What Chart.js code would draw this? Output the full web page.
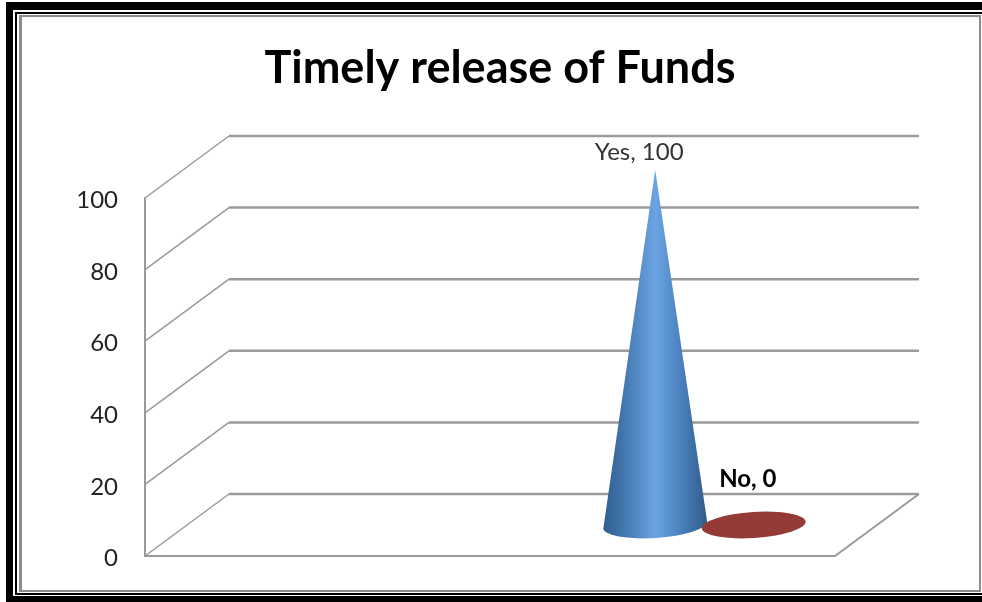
<!DOCTYPE html>
<html>
<head>
<meta charset="utf-8">
<title>Timely release of Funds</title>
<script src="https://cdn.jsdelivr.net/npm/chart.js@4/dist/chart.umd.min.js"></script>
<style>
  html,body{margin:0;padding:0;background:#fff}
  #wrap{width:982px;height:602px}
</style>
</head>
<body>
<div id="wrap"><canvas id="chart" width="982" height="602"></canvas></div>
<script>
// blank slots keep the two cones in the right part of the floor, like the original
const categories = ['','','','','','','','','','Yes','','No','',''];
const values     = [null,null,null,null,null,null,null,null,null,100,null,0,null,null];
const yTicks     = [0,20,40,60,80,100];
const chartTitle = 'Timely release of Funds';

const DEPTH_X = 84, DEPTH_Y = 62;
const GRID = '#9a9a9a';

// double rule round the picture
const framePlugin = {
  id:'frame',
  beforeDraw(c){
    const g = c.ctx, W = c.width, H = c.height;
    g.save();
    g.fillStyle = '#fff'; g.fillRect(0,0,W,H);
    g.fillStyle = '#000';
    g.fillRect(6,2,W-6,8);
    g.fillRect(6,2,7,H-2);
    g.fillRect(6,H-6,W-6,6);
    g.fillRect(15,12,W-15,2);
    g.fillRect(15,12,2,H-19);
    g.fillRect(15,H-9,W-15,2);
    g.fillStyle = '#8c8c8c';
    g.fillRect(19,15,W-20,2);
    g.fillRect(19,15,3,H-25);
    g.fillRect(19,H-12,W-20,2);
    g.fillRect(W-3,15,2,H-25);
    g.restore();
  }
};

// 3D walls built from the y scale ticks
const wallsPlugin = {
  id:'walls',
  beforeDatasetsDraw(c){
    const g = c.ctx, y = c.scales.y, a = c.chartArea;
    g.save();
    g.strokeStyle = GRID;
    y.ticks.forEach(t=>{
      const py = y.getPixelForValue(t.value);
      g.lineWidth = 1.5;
      g.beginPath(); g.moveTo(a.left,py); g.lineTo(a.left+DEPTH_X,py-DEPTH_Y); g.stroke();
      g.lineWidth = 2.5;
      g.beginPath(); g.moveTo(a.left+DEPTH_X,py-DEPTH_Y); g.lineTo(a.right+DEPTH_X,py-DEPTH_Y); g.stroke();
    });
    g.lineWidth = 2;
    g.beginPath(); g.moveTo(a.right,a.bottom); g.lineTo(a.right+DEPTH_X,a.bottom-DEPTH_Y); g.stroke();
    g.restore();
  }
};

// cones on top of the (invisible) bar elements
const conePlugin = {
  id:'cones',
  afterDatasetsDraw(c){
    const g = c.ctx, meta = c.getDatasetMeta(0);
    meta.data.forEach((bar,i)=>{
      if(values[i]===null) return;
      const cx = bar.x + DEPTH_X/2, rx = bar.width/2, ry = 13, tilt = -0.065;
      const baseY = bar.base - DEPTH_Y/2, topY = bar.y - DEPTH_Y/2 + 3;
      g.save();
      if(values[i]===0){
        g.fillStyle = '#943a37';
        g.beginPath(); g.ellipse(cx,baseY,rx,ry,tilt,0,Math.PI*2); g.fill();
      } else {
        const grad = g.createLinearGradient(cx-rx,0,cx+rx,0);
        grad.addColorStop(0,'#2f5d8f');
        grad.addColorStop(0.2,'#4377ae');
        grad.addColorStop(0.5,'#6ba4e3');
        grad.addColorStop(0.75,'#4a80bd');
        grad.addColorStop(1,'#2f5b88');
        g.fillStyle = grad;
        g.beginPath();
        g.moveTo(cx,topY);
        g.lineTo(cx+rx*Math.cos(tilt),baseY+rx*Math.sin(tilt));
        g.ellipse(cx,baseY,rx,ry,tilt,0,Math.PI);
        g.closePath();
        g.fill();
      }
      g.restore();
      // data labels
      g.save();
      g.textAlign = 'center'; g.textBaseline = 'middle';
      if(values[i]===0){
        g.font = 'bold 24px Lato'; g.fillStyle = '#000';
        g.fillText(categories[i]+', '+values[i], cx-6, baseY-46);
      } else {
        g.font = '24px Lato'; g.fillStyle = '#333';
        g.fillText(categories[i]+', '+values[i], cx-16, topY-18);
      }
      g.restore();
    });
  }
};

new Chart(document.getElementById('chart'),{
  type:'bar',
  data:{ labels:categories, datasets:[{
    data:values, backgroundColor:'rgba(0,0,0,0)', borderWidth:0, barThickness:104
  }]},
  plugins:[framePlugin,wallsPlugin,conePlugin],
  options:{
    responsive:false, animation:false,
    layout:{ padding:{ left:72, right:54, top:41, bottom:38 } },
    plugins:{
      legend:{display:false},
      tooltip:{enabled:false},
      title:{
        display:true, text:chartTitle, color:'#000',
        font:{family:'Lato',size:45,weight:'bold',lineHeight:1.2},
        padding:{top:0,bottom:103}
      }
    },
    scales:{
      x:{
        grid:{display:false},
        ticks:{display:false},
        border:{color:GRID,width:2}
      },
      y:{
        min:0, max:100,
        afterBuildTicks(s){ s.ticks = yTicks.map(v=>({value:v})); },
        afterFit(s){ s.width = 73; },
        grid:{display:false},
        border:{color:GRID,width:2},
        ticks:{ color:'#222', padding:19, labelOffset:2.5, font:{family:'Lato',size:24} }
      },
      // spare room for the floor depth, title stays centred over the whole plot
      spare:{
        position:'right', display:true,
        afterFit(s){ s.width = 93; },
        grid:{display:false}, border:{display:false}, ticks:{display:false}
      }
    }
  }
});
</script>
</body>
</html>
